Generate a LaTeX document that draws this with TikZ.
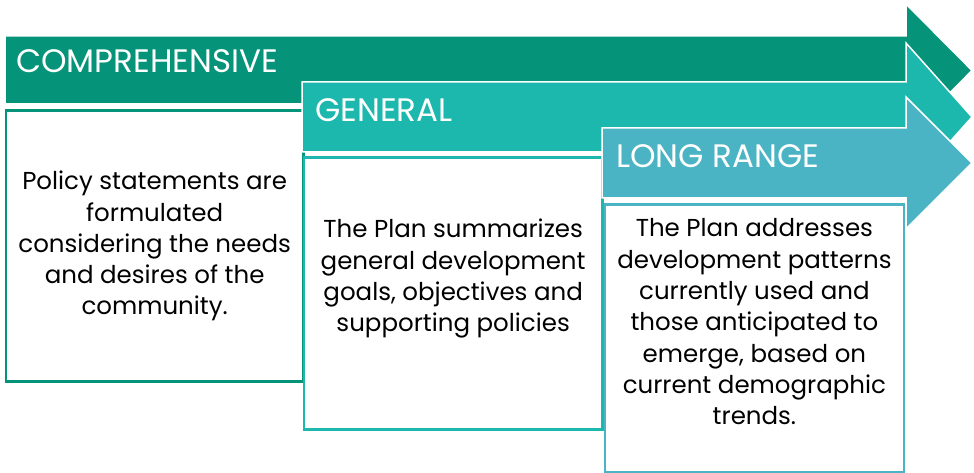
\documentclass[tikz,border=0pt]{standalone}
\usepackage{fontspec}
\setmainfont{Poppins}
\usetikzlibrary{positioning}

\definecolor{compgreen}{HTML}{05947A}
\definecolor{genteal}{HTML}{1CB8AE}
\definecolor{longblue}{HTML}{4BB4C4}

\tikzset{
  banner/.style={fill=#1, draw=white, line width=1.5pt, line join=miter},
  bannertext/.style={anchor=base west, text=white, inner sep=0pt,
    font=\fontsize{32.5}{32.5}\selectfont},
  infobox/.style={draw=#1, line width=2.8pt, fill=white, inner sep=0pt,
    anchor=north west},
  infotext/.style={align=center, inner sep=0pt,
    font=\fontsize{24.5}{31.3}\selectfont},
}

\begin{document}
\begin{tikzpicture}[x=1pt,y=-1pt]
    \useasboundingbox (0,0) rectangle (974,473);
    % comprehensive
    \path[banner=compgreen] (5,36) -- (906,36) -- (906,4) -- (972,70.5)
        -- (906,137) -- (906,104) -- (5,104) -- cycle;
    \node[bannertext] (comp) at (16,73) {COMPREHENSIVE};
    \node[infobox=compgreen, minimum width=297.5pt, minimum height=270.5pt]
        (compbox) at (4.5,109.5) {};
    \node[infotext] (comptext) at (compbox.center)
        {Policy statements are\\formulated\\considering the needs\\and desires of the\\community.};
    % general
    \path[banner=genteal] (302,82) -- (906,82) -- (906,43) -- (972,117)
        -- (906,191) -- (906,152) -- (302,152) -- cycle;
    \node[bannertext] (gen) at (315,122) {GENERAL};
    \node[infobox=genteal, minimum width=298.5pt, minimum height=272pt]
        (genbox) at (302.5,156) {};
    \node[infotext] (gentext) at ([yshift=14.5pt]genbox.center)
        {The Plan summarizes\\general development\\goals, objectives and\\supporting policies};
    % long range
    \path[banner=longblue] (602,128) -- (906,128) -- (906,97) -- (972,163)
        -- (906,229) -- (906,198) -- (602,198) -- cycle;
    \node[bannertext] (long) at (616,168) {LONG RANGE};
    \node[infobox=longblue, minimum width=299pt, minimum height=268pt]
        (longbox) at (603.5,203) {};
    \node[infotext] (longtext) at ([yshift=16.5pt]longbox.center)
        {The Plan addresses\\development patterns\\currently used and\\those anticipated to\\emerge, based on\\current demographic\\trends.};
\end{tikzpicture}
\end{document}
